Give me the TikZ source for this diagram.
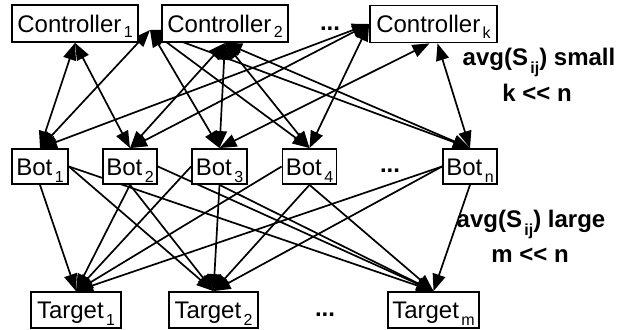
\documentclass[tikz,border=0pt]{standalone}
\usepackage{fontspec}
\setmainfont{Liberation Sans}
\usetikzlibrary{arrows.meta, backgrounds}
\newcommand{\lowsub}[2][3.5pt]{\kern1.2pt\raisebox{-#1}{\fontsize{8}{9}\selectfont #2}}

\begin{document}
\begin{tikzpicture}[x=0.5pt, y=-0.5pt,
  >={Triangle[length=8.5pt, width=6.5pt]},
  box/.style={rectangle, draw, line width=0.9pt, fill=white, inner sep=0pt,
    text height=8.6pt, text depth=0pt, font=\fontsize{12}{14}\selectfont},
  link/.style={line width=0.85pt},
  note/.style={anchor=base, inner sep=0pt, font=\fontsize{12}{14}\selectfont\bfseries}]
  \useasboundingbox (0,0) rectangle (626,330);
  % Controllers
  \node (C1) [box, minimum width=63pt, minimum height=18.5pt] at (75, 23.5) {Controller\lowsub[2.8pt]{1}};
  \node (C2) [box, minimum width=63pt, minimum height=18.5pt] at (225, 23.5) {Controller\lowsub[2.8pt]{2}};
  \node (CK) [box, minimum width=63.5pt, minimum height=18.5pt] at (433.5, 24) {Controller\lowsub[2.8pt]{k}};
  \coordinate (C12) at (150, 30);
  % Bots
  \node (B1) [box, minimum width=28pt, minimum height=17.5pt] at (40, 166.5) {Bot\lowsub{1}};
  \node (B2) [box, minimum width=27pt, minimum height=17.5pt] at (130, 166.5) {Bot\lowsub{2}};
  \node (B3) [box, minimum width=27.5pt, minimum height=17.5pt] at (219.5, 166.5) {Bot\lowsub{3}};
  \node (B4) [box, minimum width=27pt, minimum height=17.5pt] at (309.5, 166.5) {Bot\lowsub{4}};
  \node (BN) [box, minimum width=27pt, minimum height=17.5pt] at (470, 166.5) {Bot\lowsub{n}};
  % Targets
  \node (T1) [box, minimum width=45pt, minimum height=18pt] at (76, 310) {Target\lowsub{1}};
  \node (T2) [box, minimum width=44.5pt, minimum height=18pt] at (213.5, 310) {Target\lowsub{2}};
  \node (TM) [box, minimum width=45.5pt, minimum height=18pt] at (433.5, 310) {Target\lowsub{m}};
  % Dots
  \node (dotsC) [note] at (330, 31) {...};
  \node (dotsB) [note] at (390, 173) {...};
  \node (dotsT) [note] at (325, 317) {...};
  % Labels
  \node (small) [note] at (539, 66) {avg(S\lowsub[4pt]{ij}) small};
  \node (kn) [note] at (537, 102) {k {\textless}{\textless} n};
  \node (large) [note] at (531, 228) {avg(S\lowsub[4pt]{ij}) large};
  \node (mn) [note] at (530, 263) {m {\textless}{\textless} n};
  \begin{scope}[on background layer]
    % Controllers <-> bots
    \draw[link, <->] (C1.south) -- (B1.north);
    \draw[link, <->] (C1.south) -- (B2.north);
    \draw[link, <->] (C12) -- (B1.north);
    \draw[link, <->] (C12) -- (B3.north);
    \draw[link, <->] (C12) -- (B4.north);
    \draw[link, <->] (C12) -- (BN.north);
    \draw[link, <->] (C2.south) -- (B2.north);
    \draw[link, <->] (C2.south) -- (B3.north);
    \draw[link, <->] (C2.south) -- (B4.north);
    \draw[link, <->] (C2.south) -- (BN.north);
    \draw[link, <->] (CK.west) -- (B1.north);
    \draw[link, <->] (CK.west) -- (B2.north);
    \draw[link, <->] (CK.west) -- (B4.north);
    \draw[link, <->] ([xshift=-2pt]CK.south) -- (B3.north);
    \draw[link, <->] ([xshift=2pt]CK.south) -- (BN.north);
    % Bots -> targets
    \draw[link, ->] (B1.south) -- (T1.north);
    \draw[link, ->] (B1.east) -- (T2.north);
    \draw[link, ->] (B1.east) -- (TM.north);
    \draw[link, ->] (B2.south) -- (T1.north);
    \draw[link, ->] (B2.south) -- (T2.north);
    \draw[link, ->] (B2.east) -- (TM.north);
    \draw[link, ->] (B3.west) -- (T1.north);
    \draw[link, ->] (B3.south) -- (T2.north);
    \draw[link, ->] (B3.south) -- (TM.north);
    \draw[link, ->] (B4.west) -- (T1.north);
    \draw[link, ->] (B4.south) -- (T2.north);
    \draw[link, ->] (B4.south) -- (TM.north);
    \draw[link, ->] (BN.west) -- (T1.north);
    \draw[link, ->] (BN.west) -- (T2.north);
    \draw[link, ->] (BN.south) -- (TM.north);
  \end{scope}
\end{tikzpicture}
\end{document}
